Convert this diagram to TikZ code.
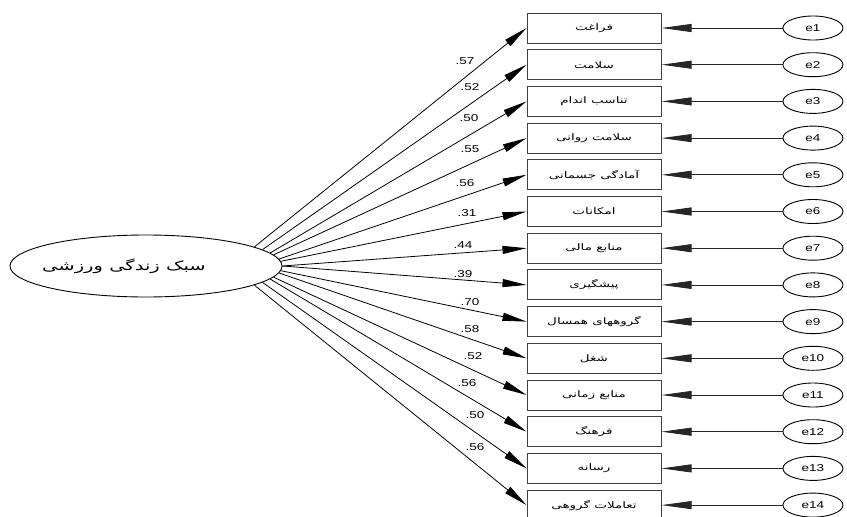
\documentclass[tikz,border=0pt]{standalone}
\usepackage{fontspec}
\setmainfont{Liberation Sans}
\newfontfamily\numfont[FakeStretch=1.35]{Liberation Sans}
\newfontfamily\fafont[Script=Arabic,FakeStretch=1.5]{DejaVu Sans}
\TeXXeTstate=1
\usetikzlibrary{arrows.meta}
\usetikzlibrary{positioning,shapes.geometric}
\newcommand{\fa}[1]{{\fafont\beginR #1\endR}}
\newcommand{\createlength}[2]{\newlength{#1}\setlength{#1}{#2}}

\begin{document}
\begin{tikzpicture}[x=1pt,y=-1pt,
  indbox/.style={draw=black!75, line width=1pt, minimum width=134pt, minimum height=30pt, inner sep=0, font=\fontsize{9}{10}\selectfont},
  errnode/.style={ellipse, draw, line width=0.9pt, minimum width=60pt, minimum height=24pt, inner sep=0, font=\numfont\fontsize{10}{11}\selectfont},
  loading/.style={-{Triangle[length=24pt,width=8pt]}, line width=0.8pt},
  errarrow/.style={-{Triangle[length=30pt,width=8pt]}, line width=0.8pt, black!85},
  coef/.style={inner sep=0, font=\numfont\fontsize{10}{11}\selectfont}]
\createlength{\rowsep}{5.7pt}
\createlength{\errsep}{121pt}
\useasboundingbox (0,0) rectangle (847,517);
%%%%%%%%%%%%%%%%%%%%%%%%%%%%
%%%%%%%% Latent. %%%%%%%%%%%
%%%%%%%%%%%%%%%%%%%%%%%%%%%%
\node[ellipse, draw, line width=0.9pt, minimum width=272pt, minimum height=62pt, inner sep=0] (lv) at (146,266) {};
\node[inner sep=0, font=\fontsize{13}{15}\selectfont] (lvname) at ([xshift=-22pt]lv.center) {\fa{سبک زندگی ورزشی}};
%%%%%%%%%%%%%%%%%%%%%%%%%%%%
%%%%%%%% Indicators. %%%%%%%
%%%%%%%%%%%%%%%%%%%%%%%%%%%%
\node[indbox] (b1) at (594,28) {\fa{فراغت}};
\node[indbox, below=\rowsep of b1] (b2) {\fa{سلامت}};
\node[indbox, below=\rowsep of b2] (b3) {\fa{تناسب اندام}};
\node[indbox, below=\rowsep of b3] (b4) {\fa{سلامت روانی}};
\node[indbox, below=\rowsep of b4] (b5) {\fa{آمادگی جسمانی}};
\node[indbox, below=\rowsep of b5] (b6) {\fa{امکانات}};
\node[indbox, below=\rowsep of b6] (b7) {\fa{منابع مالی}};
\node[indbox, below=\rowsep of b7] (b8) {\fa{پیشگیری}};
\node[indbox, below=\rowsep of b8] (b9) {\fa{گروههای همسال}};
\node[indbox, below=\rowsep of b9] (b10) {\fa{شغل}};
\node[indbox, below=\rowsep of b10] (b11) {\fa{منابع زمانی}};
\node[indbox, below=\rowsep of b11] (b12) {\fa{فرهنگ}};
\node[indbox, below=\rowsep of b12] (b13) {\fa{رسانه}};
\node[indbox, below=\rowsep of b13] (b14) {\fa{تعاملات گروهی}};
%%%%%%%%%%%%%%%%%%%%%%%%%%%%
%%%%%%%% Errors. %%%%%%%%%%%
%%%%%%%%%%%%%%%%%%%%%%%%%%%%
\node[errnode, right=\errsep of b1] (e1) {e1};
\node[errnode, right=\errsep of b2] (e2) {e2};
\node[errnode, right=\errsep of b3] (e3) {e3};
\node[errnode, right=\errsep of b4] (e4) {e4};
\node[errnode, right=\errsep of b5] (e5) {e5};
\node[errnode, right=\errsep of b6] (e6) {e6};
\node[errnode, right=\errsep of b7] (e7) {e7};
\node[errnode, right=\errsep of b8] (e8) {e8};
\node[errnode, right=\errsep of b9] (e9) {e9};
\node[errnode, right=\errsep of b10] (e10) {e10};
\node[errnode, right=\errsep of b11] (e11) {e11};
\node[errnode, right=\errsep of b12] (e12) {e12};
\node[errnode, right=\errsep of b13] (e13) {e13};
\node[errnode, right=\errsep of b14] (e14) {e14};
\draw[errarrow] (e1) -- (b1);
\draw[errarrow] (e2) -- (b2);
\draw[errarrow] (e3) -- (b3);
\draw[errarrow] (e4) -- (b4);
\draw[errarrow] (e5) -- (b5);
\draw[errarrow] (e6) -- (b6);
\draw[errarrow] (e7) -- (b7);
\draw[errarrow] (e8) -- (b8);
\draw[errarrow] (e9) -- (b9);
\draw[errarrow] (e10) -- (b10);
\draw[errarrow] (e11) -- (b11);
\draw[errarrow] (e12) -- (b12);
\draw[errarrow] (e13) -- (b13);
\draw[errarrow] (e14) -- (b14);
%%%%%%%%%%%%%%%%%%%%%%%%%%%%
%%%%%%%% Loadings. %%%%%%%%%
%%%%%%%%%%%%%%%%%%%%%%%%%%%%
\draw[loading] (lv.10) -- (b1.west);
\draw[loading] (lv.8.46) -- (b2.west);
\draw[loading] (lv.6.92) -- (b3.west);
\draw[loading] (lv.5.38) -- (b4.west);
\draw[loading] (lv.3.85) -- (b5.west);
\draw[loading] (lv.2.31) -- (b6.west);
\draw[loading] (lv.0.77) -- (b7.west);
\draw[loading] (lv.-0.77) -- (b8.west);
\draw[loading] (lv.-2.31) -- (b9.west);
\draw[loading] (lv.-3.85) -- (b10.west);
\draw[loading] (lv.-5.38) -- (b11.west);
\draw[loading] (lv.-6.92) -- (b12.west);
\draw[loading] (lv.-8.46) -- (b13.west);
\draw[loading] (lv.-10) -- (b14.west);
\node[coef] (c1) at (465,61) {.57};
\node[coef] (c2) at (470,87) {.52};
\node[coef] (c3) at (469,118) {.50};
\node[coef] (c4) at (470,149) {.55};
\node[coef] (c5) at (465,183) {.56};
\node[coef] (c6) at (467,213) {.31};
\node[coef] (c7) at (463,245) {.44};
\node[coef] (c8) at (463,274) {.39};
\node[coef] (c9) at (470,302) {.70};
\node[coef] (c10) at (470,329) {.58};
\node[coef] (c11) at (473,356) {.52};
\node[coef] (c12) at (467,383) {.56};
\node[coef] (c13) at (475,415) {.50};
\node[coef] (c14) at (475,447) {.56};
\end{tikzpicture}
\end{document}
